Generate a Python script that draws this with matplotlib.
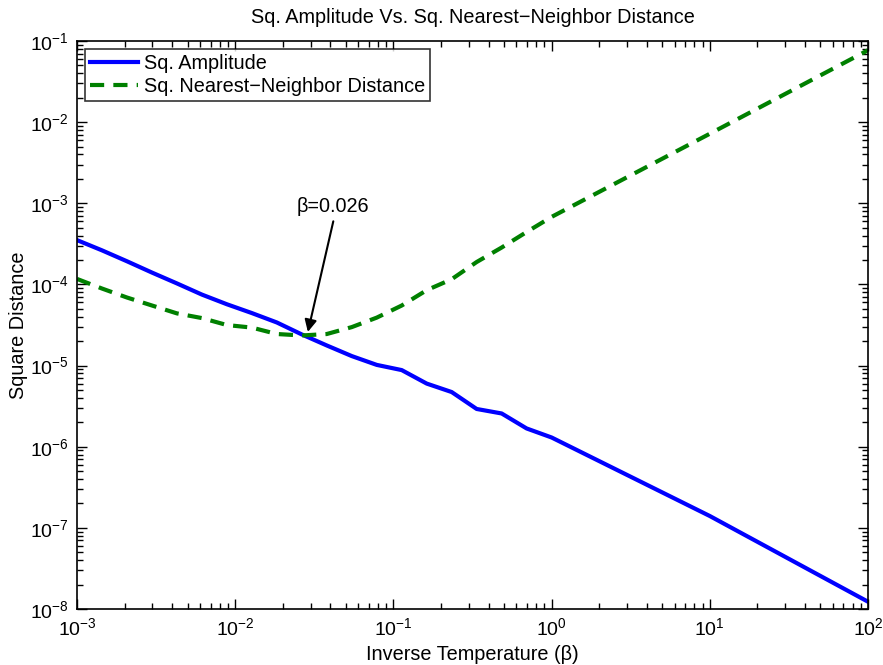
import numpy as np
import matplotlib.pyplot as plt
from matplotlib.ticker import LogLocator, FixedLocator, NullFormatter

plt.rcParams['font.family'] = ['Liberation Sans', 'DejaVu Sans']
plt.rcParams['mathtext.fontset'] = 'custom'
plt.rcParams['mathtext.rm'] = 'Liberation Sans'
plt.rcParams['mathtext.it'] = 'Liberation Sans:italic'
plt.rcParams['mathtext.default'] = 'regular'

# inverse temperature grid
beta = [0.001, 0.00144, 0.00207, 0.00298, 0.00428, 0.00616, 0.00886,
        0.01274, 0.01833, 0.02637, 0.03793, 0.05456, 0.07848, 0.1129,
        0.1624, 0.2336, 0.336, 0.4833, 0.6952, 1.0, 10.0, 100.0]

sq_amplitude = [3.52e-4, 2.63e-4, 1.93e-4, 1.40e-4, 1.03e-4, 7.5e-5, 5.7e-5,
                4.44e-5, 3.4e-5, 2.42e-5, 1.77e-5, 1.31e-5, 1.02e-5, 8.8e-6,
                6.0e-6, 4.72e-6, 2.92e-6, 2.57e-6, 1.68e-6, 1.30e-6,
                1.40e-7, 1.23e-8]

sq_nn_distance = [1.17e-4, 8.9e-5, 6.9e-5, 5.5e-5, 4.4e-5, 3.85e-5, 3.16e-5,
                  2.94e-5, 2.45e-5, 2.35e-5, 2.45e-5, 2.98e-5, 3.9e-5, 5.5e-5,
                  8.5e-5, 1.16e-4, 1.89e-4, 2.85e-4, 4.43e-4, 6.8e-4,
                  7.2e-3, 7.7e-2]

fs = 14.3

fig = plt.figure(figsize=(8.83, 6.65), dpi=100)
ax = fig.add_axes([0.0872, 0.0842, 0.8958, 0.8541])

ax.loglog(beta, sq_amplitude, color='#0000ff', lw=3, label='Sq. Amplitude')
ax.loglog(beta, sq_nn_distance, color='#008000', lw=3, ls=(0, (3.4, 2.2)),
          label='Sq. Nearest\u2212Neighbor Distance')

ax.set_xlim(1e-3, 1e2)
ax.set_ylim(1e-8, 1e-1)

ax.xaxis.set_major_locator(FixedLocator([1e-3, 1e-2, 1e-1, 1e0, 1e1, 1e2]))
ax.yaxis.set_major_locator(FixedLocator([10.0**k for k in range(-8, 0)]))
ax.xaxis.set_minor_locator(LogLocator(base=10, subs=np.arange(2, 10), numticks=20))
ax.yaxis.set_minor_locator(LogLocator(base=10, subs=np.arange(2, 10), numticks=20))
ax.xaxis.set_minor_formatter(NullFormatter())
ax.yaxis.set_minor_formatter(NullFormatter())
ax.set_xticklabels([r'$10^{%d}$' % k for k in range(-3, 3)])
ax.set_yticklabels([r'$10^{%d}$' % k for k in range(-8, 0)])

ax.tick_params(which='both', direction='in', top=True, right=True,
               labelsize=14, width=1)
ax.tick_params(which='major', length=7, pad=6)
ax.tick_params(which='minor', length=4)
for s in ax.spines.values():
    s.set_linewidth(1.2)

ax.set_title('Sq. Amplitude Vs. Sq. Nearest\u2212Neighbor Distance',
             fontsize=fs, pad=13)
ax.set_xlabel('Inverse Temperature (\u03b2)', fontsize=fs, labelpad=4)
ax.set_ylabel('Square Distance', fontsize=fs, labelpad=1)

ax.annotate('', xy=(0.0288, 2.6e-5), xytext=(0.0417, 6.0e-4),
            arrowprops=dict(arrowstyle='-|>', color='black', lw=1.5,
                            mutation_scale=18, shrinkA=0, shrinkB=0))
ax.text(0.0417, 6.9e-4, '\u03b2=0.026', fontsize=fs, ha='center', va='bottom')

leg = ax.legend(loc='upper left', fontsize=fs, frameon=True, fancybox=False,
                edgecolor='black', borderaxespad=0.4, handlelength=2.4,
                borderpad=0.25, labelspacing=0.2, handletextpad=0.3)
leg.get_frame().set_linewidth(1.2)

plt.savefig('out.png', dpi=100)
